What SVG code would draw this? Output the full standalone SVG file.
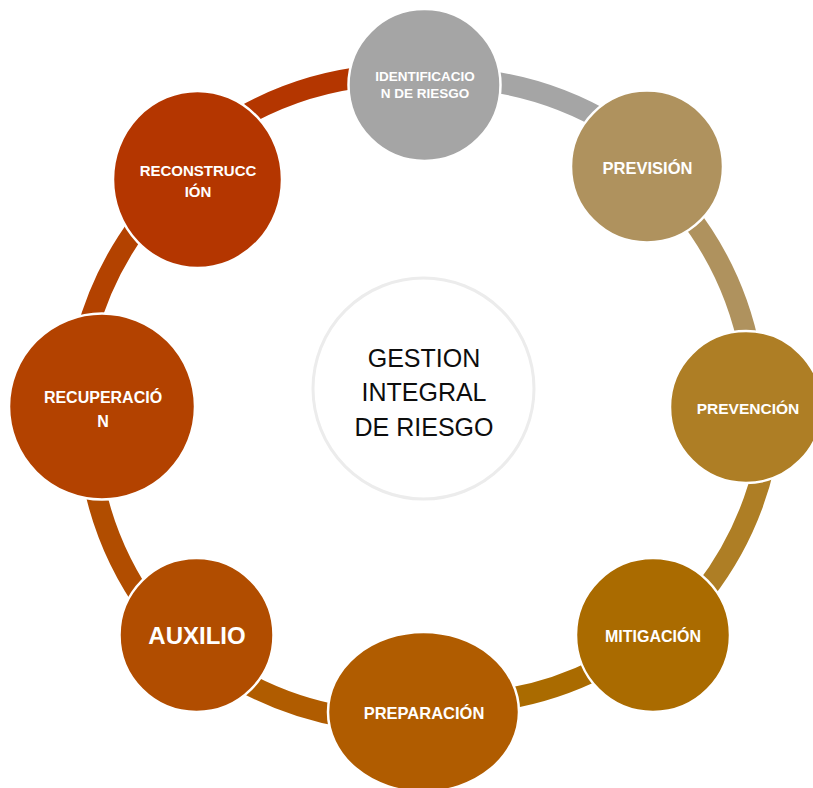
<svg xmlns="http://www.w3.org/2000/svg" width="813" height="788" viewBox="0 0 813 788">
<style>
  .band { fill: none; stroke-width: 21; stroke-linecap: butt; }
  .node { stroke: #ffffff; stroke-width: 2.5; }
  .lbl { font-family: "Liberation Sans", Arial, sans-serif; font-weight: bold; fill: #ffffff; text-anchor: middle; }
  .ctr { font-family: "Liberation Sans", Arial, sans-serif; font-size: 25px; fill: #0d0d0d; text-anchor: middle; }
</style>
<rect x="0" y="0" width="813" height="788" fill="#ffffff"/>
<g id="connectors">
  <path class="band" stroke="#a5a5a5" d="M480,80 A330,330 0 0 1 612,125"/>
  <path class="band" stroke="#af925e" d="M685,210 A330,330 0 0 1 750,352"/>
  <path class="band" stroke="#ae7e25" d="M765,462 A330,330 0 0 1 704,592"/>
  <path class="band" stroke="#aa6b00" d="M600,668 A330,330 0 0 1 500,700"/>
  <path class="band" stroke="#b05c00" d="M345,717 A330,330 0 0 1 240,680"/>
  <path class="band" stroke="#b14d00" d="M150,610 A330,330 0 0 1 93,480"/>
  <path class="band" stroke="#b34200" d="M86,335 A330,330 0 0 1 141,222"/>
  <path class="band" stroke="#b43600" d="M240,118 A330,330 0 0 1 372,76"/>
</g>
<g id="center">
  <circle cx="423.5" cy="388.5" r="110.5" fill="#ffffff" stroke="#ececec" stroke-width="3"/>
  <text class="ctr" x="424" y="367">GESTION</text>
  <text class="ctr" x="424" y="401">INTEGRAL</text>
  <text class="ctr" x="424" y="436">DE RIESGO</text>
</g>
<g id="n-identificacion">
  <circle class="node" cx="424.5" cy="85" r="76" fill="#a5a5a5"/>
  <text class="lbl" font-size="13.5" x="425" y="81">IDENTIFICACIO</text>
  <text class="lbl" font-size="13.5" x="425" y="98">N DE RIESGO</text>
</g>
<g id="n-prevision">
  <circle class="node" cx="647" cy="166.5" r="76" fill="#af925e"/>
  <text class="lbl" font-size="16.5" x="647.5" y="174">PREVISIÓN</text>
</g>
<g id="n-prevencion">
  <circle class="node" cx="746" cy="407" r="76" fill="#ae7e25"/>
  <text class="lbl" font-size="15.5" x="748" y="414">PREVENCIÓN</text>
</g>
<g id="n-mitigacion">
  <circle class="node" cx="653" cy="635" r="77" fill="#aa6b00"/>
  <text class="lbl" font-size="16" x="653" y="642">MITIGACIÓN</text>
</g>
<g id="n-preparacion">
  <ellipse class="node" cx="423.5" cy="712" rx="95.5" ry="80" fill="#b05c00"/>
  <text class="lbl" font-size="16.5" x="424" y="719">PREPARACIÓN</text>
</g>
<g id="n-auxilio">
  <circle class="node" cx="196.5" cy="635" r="77" fill="#b14d00"/>
  <text class="lbl" font-size="24" x="197" y="644">AUXILIO</text>
</g>
<g id="n-recuperacion">
  <circle class="node" cx="102" cy="406.5" r="93" fill="#b34200"/>
  <text class="lbl" font-size="16" x="103" y="403">RECUPERACIÓ</text>
  <text class="lbl" font-size="16" x="103" y="427">N</text>
</g>
<g id="n-reconstruccion">
  <ellipse class="node" cx="197.5" cy="179.5" rx="84.5" ry="88.5" fill="#b43600"/>
  <text class="lbl" font-size="15" x="198" y="176">RECONSTRUCC</text>
  <text class="lbl" font-size="15" x="198" y="197">IÓN</text>
</g>
</svg>
